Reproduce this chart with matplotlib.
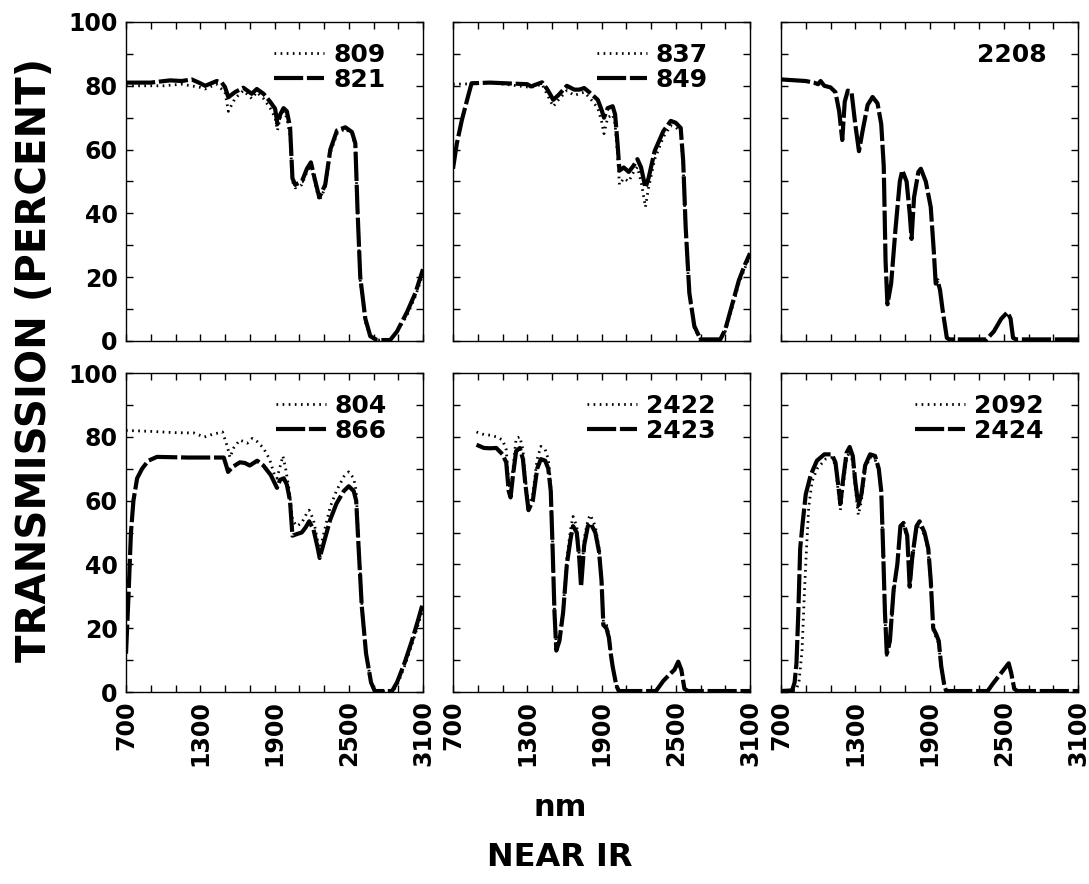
import matplotlib
matplotlib.use('Agg')
import matplotlib.pyplot as plt
import numpy as np

plt.rcParams['font.family'] = ['DejaVu Sans']
plt.rcParams['font.weight'] = 'bold'

# ---- data (nm, percent transmission) ----
# panel 1
wl_821 = [700, 900, 1056, 1150, 1231, 1300, 1340, 1433, 1474, 1500, 1527,
          1580, 1648, 1716, 1757, 1811, 1865, 1905, 1924, 1946, 1973, 2000,
          2026, 2045, 2067, 2121, 2162, 2194, 2224, 2262, 2310, 2351, 2405,
          2472, 2526, 2553, 2571, 2593, 2634, 2674, 2728, 2835, 2890, 2970,
          3038, 3100]
tr_821 = [81, 81, 81.7, 81.5, 82, 80.8, 80, 81.5, 81, 79.6, 76.4,
          78, 79.4, 77.5, 79, 77.5, 75, 72.8, 68, 71, 73, 72,
          67, 51, 49, 50, 54, 56, 51, 45, 49, 60, 66,
          67, 65.5, 62, 41, 20, 7, 1.5, 0.3, 0.3, 3, 9,
          15, 22.5]
wl_809 = [700, 1000, 1150, 1300, 1340, 1430, 1500, 1527, 1580, 1648, 1716,
          1757, 1811, 1865, 1905, 1924, 1946, 1973, 2000, 2026, 2045, 2067,
          2121, 2162, 2194, 2224, 2262, 2310, 2351, 2405, 2472, 2526, 2553,
          2571, 2593, 2634, 2674, 2728, 2835, 2890, 2970, 3038, 3100]
tr_809 = [80, 80, 80.5, 79.5, 79, 80.5, 78, 72, 76, 78.5, 76,
          78, 76, 73, 70, 66, 70, 72, 70, 64, 50, 48,
          49, 53, 55, 50, 44, 48, 59, 65, 66.5, 65, 61,
          40, 19, 6, 1, 0.3, 0.3, 3, 8, 14, 21]

# panel 2
wl_849 = [700, 730, 770, 810, 850, 1000, 1300, 1330, 1420, 1460, 1490,
          1510, 1550, 1620, 1680, 1720, 1760, 1810, 1870, 1900, 1920, 1950,
          1990, 2010, 2030, 2045, 2080, 2120, 2160, 2190, 2220, 2255, 2280,
          2330, 2400, 2460, 2500, 2540, 2560, 2580, 2610, 2650, 2700, 2860,
          2900, 2960, 3010, 3060, 3100]
tr_849 = [54, 61.7, 69, 75, 80.8, 81, 80.5, 79.8, 81.1, 79, 77,
          75.6, 77, 80, 78.8, 78.8, 79.3, 77.7, 75.6, 72.5, 70, 73,
          73.6, 71, 61.7, 53.4, 54.4, 53, 55, 57, 54.4, 48, 51,
          59.6, 65.8, 69, 68.4, 66.8, 56.5, 35.8, 15, 4.7, 0.5, 0.5,
          3.6, 12, 19, 24, 27.5]
wl_837 = [700, 830, 1000, 1330, 1420, 1490, 1510, 1550, 1620, 1680, 1720,
          1760, 1810, 1870, 1900, 1920, 1950, 1990, 2010, 2030, 2045, 2080,
          2120, 2160, 2190, 2220, 2255, 2280, 2330, 2400, 2460, 2500, 2540,
          2560, 2580, 2610, 2650, 2700, 2860, 2900, 2960, 3010, 3060, 3100]
tr_837 = [80.5, 80.6, 81, 79.5, 80.5, 75, 73.5, 75.5, 78.5, 77, 77.5,
          78, 76, 73, 69, 65, 70, 71, 68, 58, 49, 51,
          50, 53, 54.5, 50, 42, 48, 57, 64, 67.5, 67, 65.5,
          55, 34, 14, 4, 0.5, 0.5, 3, 11, 18, 23, 26.5]

# panel 3
wl_2208 = [700, 900, 965, 1000, 1020, 1050, 1100, 1140, 1170, 1195, 1215,
           1240, 1270, 1300, 1330, 1360, 1400, 1440, 1480, 1510, 1530, 1545,
           1560, 1590, 1625, 1660, 1680, 1715, 1740, 1755, 1775, 1810, 1830,
           1870, 1910, 1935, 1950, 1965, 1985, 2005, 2040, 2060, 2360, 2420,
           2480, 2530, 2555, 2575, 2600, 3100]
tr_2208 = [82, 81.5, 81, 80.5, 81.5, 80, 79.5, 78, 72, 63, 75,
           78.5, 78, 68, 59.5, 66, 74, 76.5, 74.5, 68, 55, 25,
           11.5, 18, 35, 50, 53.5, 50, 40, 32, 45, 53, 54,
           50, 42, 28, 18, 19, 16, 10, 1, 0.5, 0.5, 3,
           7, 9, 7, 1, 0.5, 0.5]

# panel 4
wl_866 = [700, 720, 740, 760, 790, 830, 880, 950, 1200, 1400, 1490,
          1510, 1525, 1560, 1620, 1660, 1700, 1760, 1810, 1870, 1920, 1945,
          1975, 2000, 2025, 2045, 2080, 2120, 2150, 2180, 2215, 2250, 2265,
          2300, 2350, 2400, 2460, 2500, 2540, 2560, 2580, 2605, 2640, 2680,
          2710, 2850, 2890, 2950, 3010, 3060, 3100]
tr_866 = [12, 30, 50, 60, 67, 70, 72.5, 73.7, 73.5, 73.5, 73.5,
          71, 69, 70.5, 72, 71.8, 71, 72.5, 71, 68, 64, 66.5,
          67, 65, 60, 49, 49.5, 50, 51.5, 53.5, 51, 45, 42,
          47, 54, 59, 63, 64.5, 63, 60, 45, 27, 12, 3,
          0.3, 0.3, 3, 9, 16, 22.5, 28]
wl_804 = [700, 900, 1100, 1250, 1300, 1330, 1400, 1480, 1510, 1525, 1540,
          1570, 1620, 1680, 1720, 1760, 1810, 1860, 1900, 1920, 1968, 1990,
          2020, 2045, 2080, 2120, 2160, 2180, 2215, 2250, 2265, 2300, 2350,
          2400, 2460, 2500, 2540, 2560, 2580, 2605, 2640, 2680, 2710, 2860,
          2900, 2960, 3020, 3060, 3100]
tr_804 = [82, 81.7, 81.3, 81.2, 80.4, 79.9, 80.8, 81.5, 78, 76, 73.5,
          76.5, 79, 78, 79.5, 78.5, 76.5, 73, 68, 67, 74, 70,
          63, 54, 52, 53, 56, 57, 54, 47, 44, 50, 58,
          63, 67.5, 69, 67, 63, 47, 28, 12, 3, 0.3, 0.3,
          3, 9, 16, 21, 26]

# panel 5
wl_2423 = [890, 950, 1000, 1050, 1100, 1130, 1150, 1165, 1185, 1210, 1240,
           1265, 1285, 1310, 1345, 1380, 1410, 1445, 1470, 1490, 1505, 1520,
           1535, 1560, 1590, 1620, 1650, 1670, 1700, 1720, 1735, 1760, 1790,
           1810, 1850, 1880, 1900, 1915, 1940, 1960, 1975, 1990, 2020, 2040,
           2340, 2400, 2450, 2490, 2520, 2545, 2570, 2600, 3100]
tr_2423 = [77.5, 76.5, 76.4, 76.5, 74.5, 72, 63, 61, 68, 75.5, 76.5,
           73, 65, 57, 60, 70, 73, 72.5, 70, 63, 45, 25,
           13, 16, 25, 40, 48, 52, 50, 42, 33, 46, 52,
           53, 50, 44, 35, 21, 20, 17, 12, 8, 2, 0.3,
           0.3, 3.5, 5.5, 7, 9.5, 7, 1, 0.3, 0.3]
wl_2422 = [890, 950, 1000, 1050, 1100, 1130, 1150, 1165, 1185, 1210, 1240,
           1265, 1285, 1310, 1345, 1380, 1410, 1445, 1470, 1490, 1505, 1520,
           1535, 1560, 1590, 1620, 1650, 1670, 1700, 1720, 1735, 1760, 1790,
           1810, 1850, 1880, 1900, 1915, 1940, 1960, 1975, 1990, 2020, 2040]
tr_2422 = [81.5, 80.7, 80.5, 80, 79, 76, 66, 62, 70, 79.5, 80,
           76, 67, 58, 62, 73, 77, 76, 73, 65, 46, 26,
           14, 17, 26, 42, 51, 55, 52, 43, 34, 48, 54,
           55.5, 52, 45, 36, 22, 21, 18, 12, 8, 2, 0.3]

# panel 6
wl_2424 = [700, 790, 810, 825, 840, 855, 875, 900, 940, 990, 1050,
           1110, 1140, 1165, 1180, 1200, 1230, 1255, 1280, 1300, 1325, 1350,
           1380, 1420, 1460, 1490, 1510, 1525, 1540, 1555, 1580, 1610, 1640,
           1665, 1690, 1720, 1740, 1760, 1795, 1820, 1860, 1890, 1910, 1930,
           1955, 1975, 1995, 2020, 2035, 2370, 2410, 2460, 2500, 2540, 2560,
           2585, 2610, 3100]
tr_2424 = [0.3, 0.5, 3, 9, 25, 45, 53, 62, 68, 72.5, 74.5,
           74.5, 72, 64, 59, 66, 75, 76.8, 74, 66, 58.5, 62,
           71, 74.5, 74, 70, 63, 45, 25, 12, 16, 32, 40,
           52, 53, 49, 33, 42, 52, 53.5, 50, 45, 35, 20,
           18, 16, 8, 2, 0.3, 0.3, 2.5, 5, 7, 9, 6,
           1, 0.3, 0.3]
wl_2092 = [700, 820, 845, 870, 889, 905, 924, 951, 992, 1060, 1110,
           1140, 1165, 1180, 1200, 1230, 1255, 1280, 1300, 1325, 1350, 1380,
           1420, 1460, 1490, 1510, 1525, 1540, 1555, 1580, 1610, 1640, 1665,
           1690, 1720, 1740, 1760, 1795, 1820, 1860, 1890, 1910, 1930, 1955,
           1975, 1995, 2020, 2035]
tr_2092 = [0.3, 0.5, 3, 13, 31, 44, 58, 66, 70, 73, 73.5,
           71, 62, 57, 64, 73, 75.5, 72, 64, 55.5, 60, 70,
           73.5, 73, 69, 62, 44, 24, 11, 15, 31, 39, 51,
           52, 48, 32, 41, 51, 52.5, 49, 44, 34, 19, 17,
           15, 7, 1.5, 0.3]

# (label, x, y) pairs per panel: dotted first, dashed second
panels = [
    [('809', wl_809, tr_809), ('821', wl_821, tr_821)],
    [('837', wl_837, tr_837), ('849', wl_849, tr_849)],
    [(None, None, None), ('2208', wl_2208, tr_2208)],
    [('804', wl_804, tr_804), ('866', wl_866, tr_866)],
    [('2422', wl_2422, tr_2422), ('2423', wl_2423, tr_2423)],
    [('2092', wl_2092, tr_2092), ('2424', wl_2424, tr_2424)],
]

x_major = [700, 1300, 1900, 2500, 3100]
y_major = [0, 20, 40, 60, 80, 100]

W, H = 1089, 884
lefts = [126, 453, 781]
tops = [22, 373]
pw, ph = 297, 319
legend_x = [0.89, 0.875, 0.91, 0.895, 0.90, 0.90]

DOTTED = (0, (0.6, 1.6))
DASHED = (0, (7, 0.9))


def setup_ax(ax, row, col):
    ax.set_xlim(700, 3100)
    ax.set_ylim(0, 100)
    ax.set_xticks(np.arange(700, 3101, 200))
    ax.set_yticks(np.arange(0, 101, 10))
    ax.set_xticklabels([str(v) if v in x_major else '' for v in
                        np.arange(700, 3101, 200)], rotation=90, va='top')
    ax.set_yticklabels([str(v) if v in y_major else '' for v in
                        np.arange(0, 101, 10)])
    ax.tick_params(direction='in', top=True, right=True, length=5,
                   width=1, labelsize=17, pad=6)
    if row == 0:
        ax.tick_params(labelbottom=False)
    if col > 0:
        ax.tick_params(labelleft=False)
    for s in ax.spines.values():
        s.set_linewidth(1.0)


fig = plt.figure(figsize=(W / 100, H / 100), dpi=100)

for i, curves in enumerate(panels):
    row, col = divmod(i, 3)
    l = lefts[col] / W
    b = 1 - (tops[row] + ph) / H
    ax = fig.add_axes([l, b, pw / W, ph / H])
    setup_ax(ax, row, col)

    dot, dash = curves
    if dot[0] is not None:
        ax.plot(dot[1], dot[2], color='black', lw=2.0, ls=DOTTED,
                label=dot[0])
    ax.plot(dash[1], dash[2], color='black', lw=3.0, ls=DASHED,
            label=dash[0])

    leg = ax.legend(loc='upper right', bbox_to_anchor=(legend_x[i], 0.95),
                    frameon=False, fontsize=18, handlelength=2.0,
                    handletextpad=0.35, labelspacing=0.05, borderpad=0.2,
                    borderaxespad=0)
    if dot[0] is None:
        # only one sample in this panel, no line key
        for h in leg.legend_handles:
            h.set_visible(False)

fig.text(35 / W, 1 - 360 / H, 'TRANSMISSION (PERCENT)', rotation=90,
         ha='center', va='center', fontsize=29, fontweight='bold')
fig.text(560 / W, 1 - 808 / H, 'nm', ha='center', va='center',
         fontsize=22, fontweight='bold')
fig.text(560 / W, 1 - 858 / H, 'NEAR IR', ha='center', va='center',
         fontsize=23, fontweight='bold')

fig.savefig('out.png', dpi=100)
